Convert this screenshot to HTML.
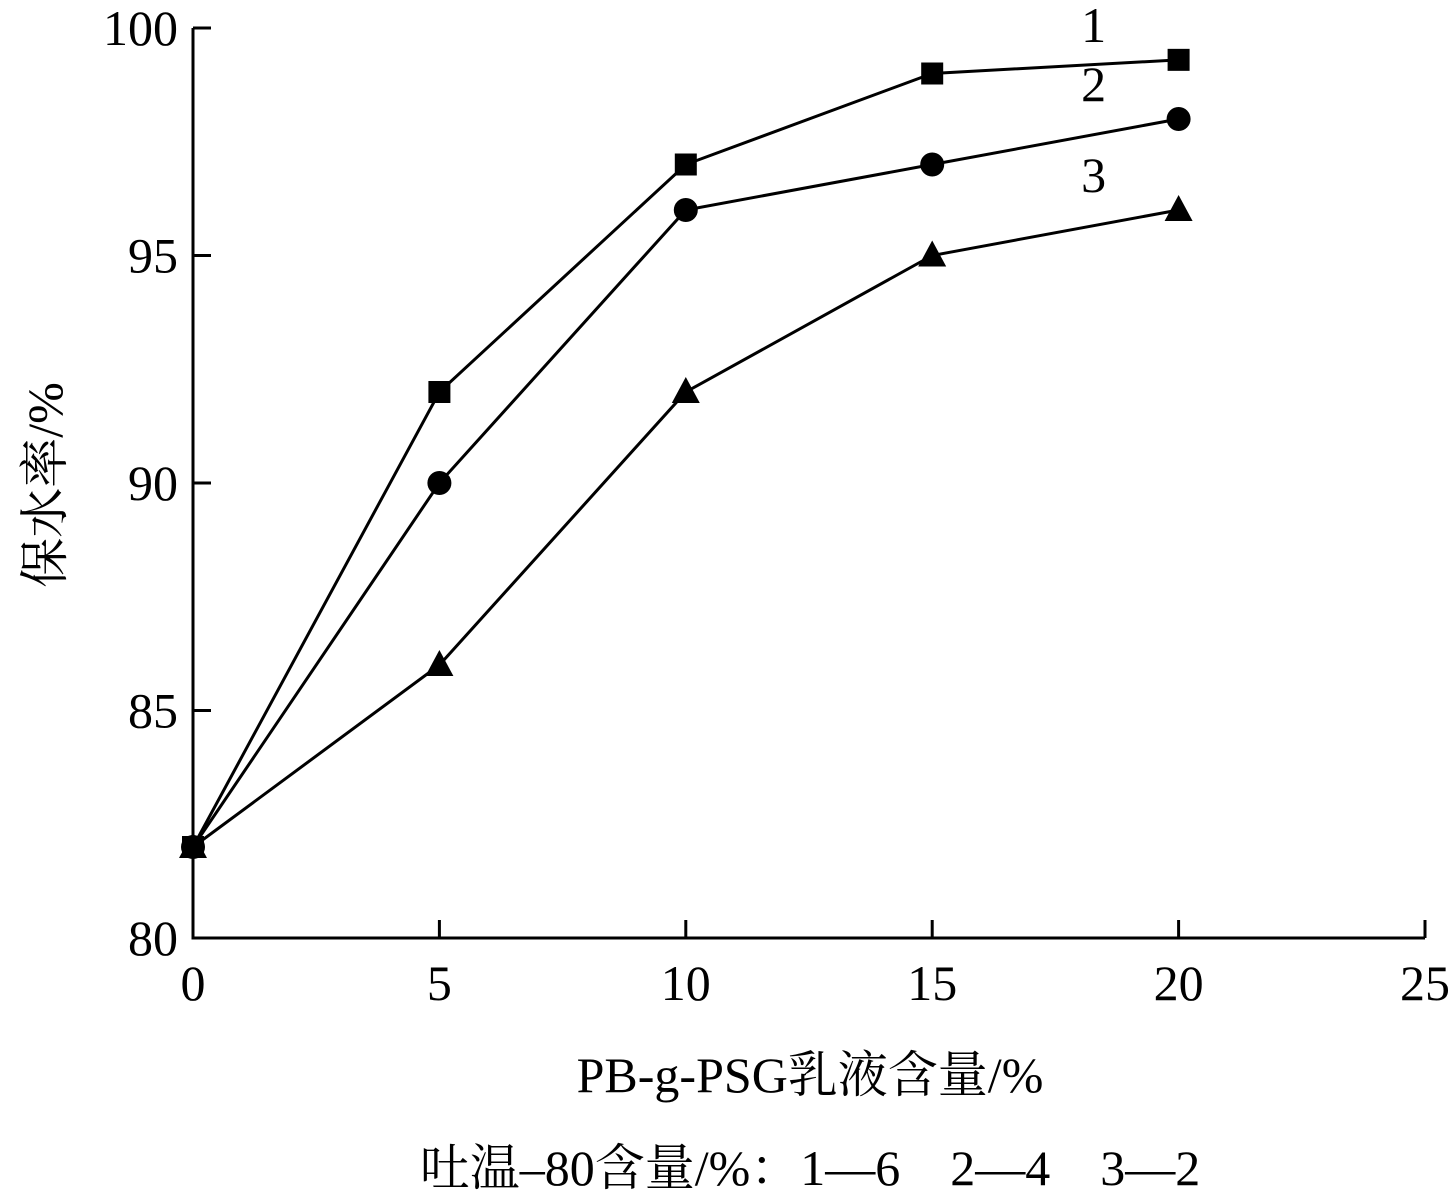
<!DOCTYPE html>
<html><head><meta charset="utf-8"><style>
body{margin:0;background:#fff}
svg text{font-family:"Liberation Serif","Noto Serif CJK SC",serif;fill:#000}
</style></head><body>
<svg id="chart" width="1452" height="1194" viewBox="0 0 1452 1194" xmlns="http://www.w3.org/2000/svg">
<g id="axes"></g>
<g id="series"></g>
<text x="810" y="1092" font-size="50" text-anchor="middle">PB-g-PSG乳液含量/%</text>
<text x="810" y="1185" font-size="50" text-anchor="middle">吐温–80含量/%：1—6　2—4　3—2</text>
<text transform="translate(62,485) rotate(-90)" font-size="50" text-anchor="middle">保水率/%</text>
</svg>
<script>
const xValues=[0,5,10,15,20];
const series1=[82,92,97,99,99.3];
const series2=[82,90,96,97,98];
const series3=[82,86,92,95,96];
const xTicks=[0,5,10,15,20,25];
const yTicks=[80,85,90,95,100];
const seriesLabels=["1","2","3"];
const NS="http://www.w3.org/2000/svg";
const X0=193,X1=1425,Y0=938,Y1=28;
const xs=v=>X0+(v-0)/25*(X1-X0);
const ys=v=>Y0-(v-80)/20*(Y0-Y1);
function mk(t,a,p){const e=document.createElementNS(NS,t);for(const k in a)e.setAttribute(k,a[k]);p.appendChild(e);return e;}
const ax=document.getElementById('axes');
let l=mk('path',{d:`M${X0},${Y1} V${Y0} H${X1}`,fill:'none',stroke:'#000','stroke-width':3},ax);


xTicks.forEach(t=>{
 const x=xs(t);
 const k=mk('line',{x1:x,x2:x,y1:Y0,y2:Y0-18,stroke:'#000','stroke-width':3},ax);
 
 
 const tx=mk('text',{x:x,y:1000,'font-size':50,'text-anchor':'middle'},ax);tx.textContent=t;
 
 
});
yTicks.forEach(t=>{
 const y=ys(t);
 const k=mk('line',{x1:X0,x2:X0+18,y1:y,y2:y,stroke:'#000','stroke-width':3},ax);
 
 
 const tx=mk('text',{x:178,y:y+17,'font-size':50,'text-anchor':'end'},ax);tx.textContent=t;
 
 
});
const sg=document.getElementById('series');
const all=[series1,series2,series3];
all.forEach((s,i)=>{
 const pl=mk('polyline',{points:s.map((v,j)=>xs(xValues[j])+','+ys(v)).join(' '),fill:'none',stroke:'#000','stroke-width':3},sg);
 
 
 s.forEach((v,j)=>{
  const x=xs(xValues[j]),y=ys(v);let m;
  if(i===0)m=mk('rect',{x:x-11,y:y-11,width:22,height:22,fill:'#000'},sg);
  else if(i===1)m=mk('circle',{cx:x,cy:y,r:12,fill:'#000'},sg);
  else m=mk('polygon',{points:`${x},${y-15} ${x-14},${y+11} ${x+14},${y+11}`,fill:'#000'},sg);
  
  
 });
 const last=s[s.length-1];
 const lb=mk('text',{x:xs(20)-85,y:ys(last)-18,'font-size':50,'text-anchor':'middle'},sg);
 lb.textContent=seriesLabels[i];
 
 
});
</script>
</body></html>
